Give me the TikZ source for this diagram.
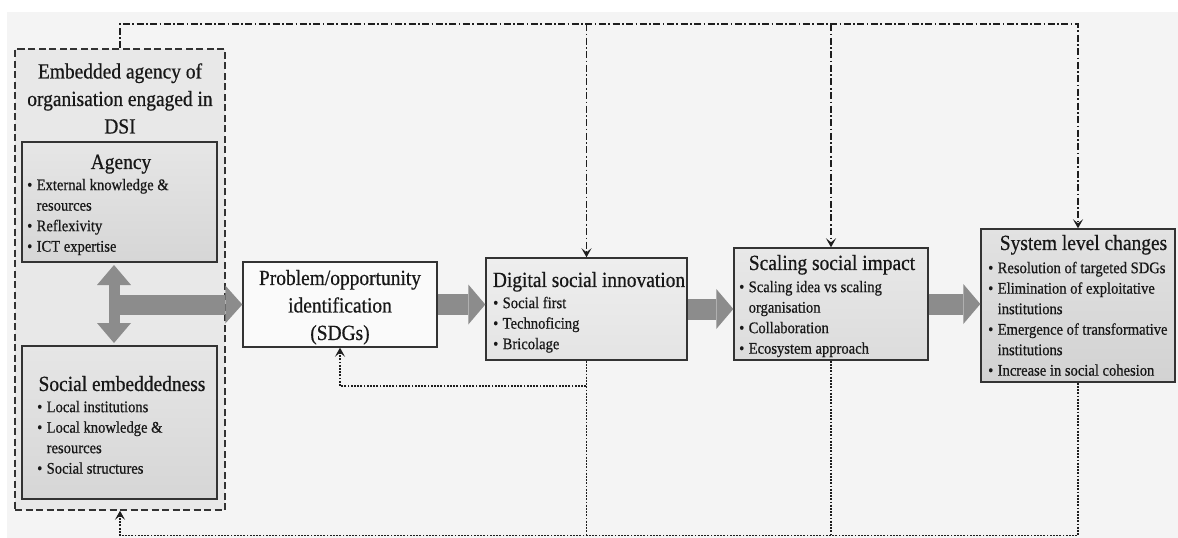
\documentclass[tikz,border=0pt]{standalone}
\usepackage{fontspec}
\setmainfont{Liberation Serif}[FakeStretch=0.9,FakeBold=0.6]
\usetikzlibrary{arrows.meta,calc}
\definecolor{bgc}{HTML}{F4F4F4}
\definecolor{outc}{HTML}{E8E8E8}
\definecolor{boxc}{HTML}{333333}
\definecolor{txtc}{HTML}{181818}
\definecolor{arrc}{HTML}{8C8C8C}
\definecolor{linec}{HTML}{1E1E1E}
\definecolor{agtop}{HTML}{E6E6E6}
\definecolor{agbot}{HTML}{D6D6D6}
\definecolor{probc}{HTML}{FAFAFA}
\definecolor{dsitop}{HTML}{EEEEEE}
\definecolor{dsibot}{HTML}{E4E4E4}
\definecolor{sctop}{HTML}{E8E8E8}
\definecolor{scbot}{HTML}{DCDCDC}
\definecolor{sytop}{HTML}{E2E2E2}
\definecolor{sybot}{HTML}{D2D2D2}
\newcommand\tfont{\fontsize{21.6}{27.5}\selectfont}
\newcommand\bfont{\fontsize{16.2}{20.5}\selectfont}
\newcommand\bitem[1]{\makebox[9.5pt][l]{\textbullet}#1}
\newcommand\bcont[1]{\hspace*{9.5pt}#1}
\newcommand\fst{\rule{0pt}{0.8em}}
\begin{document}
\begin{tikzpicture}[x=1pt,y=1pt,
  sbox/.style={draw=boxc, line width=1.4pt, rectangle, inner sep=0pt},
  obox/.style={draw=boxc, fill=outc, line width=1.5pt, dash pattern=on 7pt off 3.5pt, rectangle, inner sep=0pt},
  ttl/.style={font=\tfont, text=txtc, inner sep=0pt, anchor=north, align=center},
  blt/.style={font=\bfont, text=txtc, inner sep=0pt, anchor=north west, align=left},
  barrow/.style={draw=arrc, line width=21pt, -{Triangle[length=17pt,width=40pt,line width=0pt]}},
  fbdash/.style={draw=linec, line width=1.6pt, dash pattern=on 7pt off 2.5pt on 1.6pt off 2.5pt},
  fbdot/.style={draw=linec, line width=1.9pt, dash pattern=on 1.9pt off 1.3pt},
  >={Stealth[length=9pt,width=10pt,inset=4pt]}
]
\useasboundingbox (0,0) rectangle (1178,-538);
\fill[white] (0,0) rectangle (1178,-538);
\fill[bgc] (7,-12) rectangle (1178,-538);

% boxes
\node[obox, minimum width=210pt, minimum height=461pt] (outer) at (120,-279.5) {};
\node[sbox, top color=agtop, bottom color=agbot, minimum width=195pt, minimum height=120pt] (ag) at (119.5,-202) {};
\node[sbox, top color=agtop, bottom color=agbot, minimum width=195pt, minimum height=153pt] (soc) at (119.5,-422.5) {};
\node[sbox, fill=probc, minimum width=194pt, minimum height=85pt] (prob) at (340,-304.5) {};
\node[sbox, top color=dsitop, bottom color=dsibot, minimum width=201pt, minimum height=102pt] (dsi) at (586.5,-309) {};
\node[sbox, top color=sctop, bottom color=scbot, minimum width=194pt, minimum height=112pt] (scal) at (831,-304) {};
\node[sbox, top color=sytop, bottom color=sybot, minimum width=194pt, minimum height=153pt] (sys) at (1078,-305.5) {};

% texts
\node[ttl] (tEmb) at (120,-61) {\fst Embedded agency of\\organisation engaged in\\DSI};
\node[ttl] (tAg) at (121,-151.5) {\fst Agency};
\node[blt] (lAg) at (27,-177) {\fst\bitem{External knowledge \&}\\\bcont{resources}\\\bitem{Reflexivity}\\\bitem{ICT expertise}};
\node[ttl] (tSoc) at (122,-373.5) {\fst Social embeddedness};
\node[blt] (lSoc) at (37,-399) {\fst\bitem{Local institutions}\\\bitem{Local knowledge \&}\\\bcont{resources}\\\bitem{Social structures}};
\node[ttl] (tProb) at (340,-267.5) {\fst Problem/opportunity\\identification\\(SDGs)};
\node[ttl] (tDsi) at (589,-269.5) {\fst Digital social innovation};
\node[blt] (lDsi) at (493,-295) {\fst\bitem{Social first}\\\bitem{Technoficing}\\\bitem{Bricolage}};
\node[ttl] (tScal) at (832,-252.5) {\fst Scaling social impact};
\node[blt] (lScal) at (739,-279) {\fst\bitem{Scaling idea vs scaling}\\\bcont{organisation}\\\bitem{Collaboration}\\\bitem{Ecosystem approach}};
\node[ttl] (tSys) at (1083.5,-232.5) {\fst System level changes};
\node[blt] (lSys) at (988,-260) {\fst\bitem{Resolution of targeted SDGs}\\\bitem{Elimination of exploitative}\\\bcont{institutions}\\\bitem{Emergence of transformative}\\\bcont{institutions}\\\bitem{Increase in social cohesion}};

% block arrows
\coordinate (vtop) at (114,-265);
\coordinate (vbot) at (114,-343);
\coordinate (hstart) at (114,-304.5);
\draw[draw=arrc, line width=11pt, {Triangle[length=20pt,width=34pt,line width=0pt]}-{Triangle[length=20pt,width=34pt,line width=0pt]}] (vtop) -- (vbot);
\draw[draw=arrc, line width=20pt, -{Triangle[length=17pt,width=38pt,line width=0pt]}] (hstart) -- (prob.west);
\draw[barrow] (prob.east) -- (prob.east -| dsi.west);
\draw[barrow] (dsi.east) -- (dsi.east -| scal.west);
\draw[barrow] (scal.east) -- (scal.east -| sys.west);

% feedback lines
\coordinate (ty) at (0,-24);
\coordinate (by) at (0,-535.5);
\coordinate (ry) at (0,-386);
\draw[fbdash, ->] (outer.north) -- (outer.north |- ty) -- (sys.north |- ty) -- (sys.north);
\draw[fbdash, ->] (dsi.north |- ty) -- (dsi.north);
\draw[fbdash, ->] (scal.north |- ty) -- (scal.north);
\draw[fbdot, ->] (sys.south) -- (sys.south |- by) -- (outer.south |- by) -- (outer.south);
\draw[fbdot] (dsi.south) -- (dsi.south |- by);
\draw[fbdot] (scal.south) -- (scal.south |- by);
\draw[fbdot, ->] (dsi.south) -- (dsi.south |- ry) -- (prob.south |- ry) -- (prob.south);
\end{tikzpicture}
\end{document}
